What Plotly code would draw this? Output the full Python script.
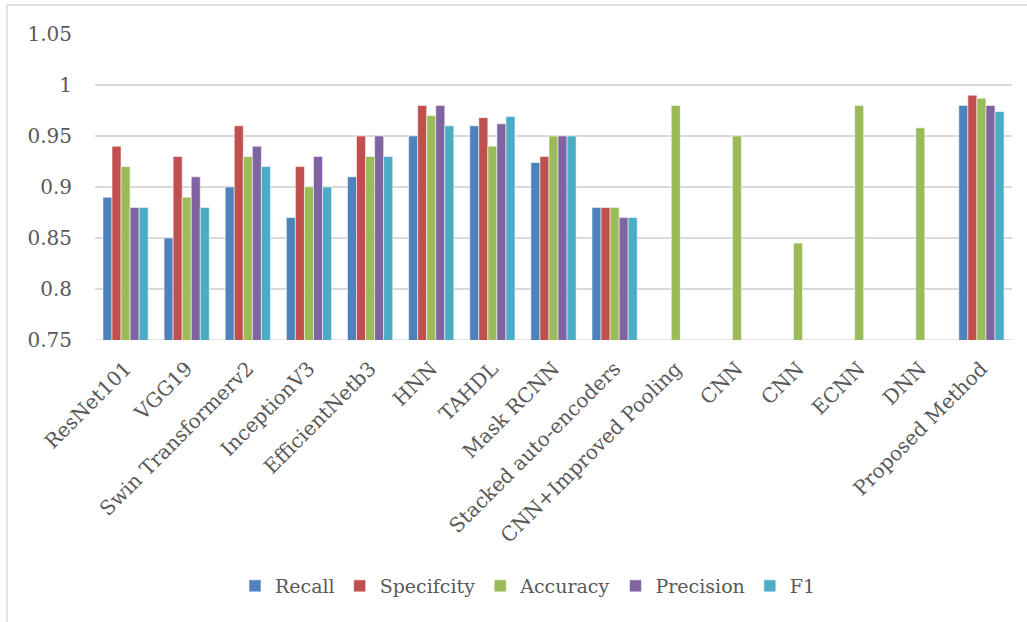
import plotly.graph_objects as go

methods = ["ResNet101", "VGG19", "Swin Transformerv2", "InceptionV3", "EfficientNetb3",
           "HNN", "TAHDL", "Mask RCNN", "Stacked auto-encoders", "CNN+Improved Pooling",
           "CNN", "CNN", "ECNN", "DNN", "Proposed Method"]

recall      = [0.89, 0.85, 0.90, 0.87, 0.91, 0.95, 0.96, 0.924, 0.88, None, None, None, None, None, 0.98]
specificity = [0.94, 0.93, 0.96, 0.92, 0.95, 0.98, 0.968, 0.93, 0.88, None, None, None, None, None, 0.99]
accuracy    = [0.92, 0.89, 0.93, 0.90, 0.93, 0.97, 0.94, 0.95, 0.88, 0.98, 0.95, 0.845, 0.98, 0.958, 0.987]
precision   = [0.88, 0.91, 0.94, 0.93, 0.95, 0.98, 0.962, 0.95, 0.87, None, None, None, None, None, 0.98]
f1          = [0.88, 0.88, 0.92, 0.90, 0.93, 0.96, 0.969, 0.95, 0.87, None, None, None, None, None, 0.974]

y_ticks = [0.75, 0.8, 0.85, 0.9, 0.95, 1.0, 1.05]
y_tick_text = ["0.75", "0.8", "0.85", "0.9", "0.95", "1", "1.05"]

series = [
    ("Recall", recall, "#4F81BD"),
    ("Specifcity", specificity, "#C0504D"),
    ("Accuracy", accuracy, "#9BBB59"),
    ("Precision", precision, "#8064A2"),
    ("F1", f1, "#4BACC6"),
]

positions = list(range(len(methods)))
font_family = "DejaVu Serif"
text_color = "#595959"
grid_color = "#D9D9D9"

fig = go.Figure()
for name, values, color in series:
    fig.add_trace(go.Bar(
        x=positions, y=values, name=name,
        marker=dict(color=color, line=dict(color="rgba(255,255,255,0.55)", width=1)),
    ))

# plot area in pixels: left 95, right 1012, top 34, bottom 340
L, R, T, B = 95, 1012, 34, 340
W, H = 1027, 622

def px_x(p):
    return (p - L) / (R - L)

def px_y(p):
    return (B - p) / (B - T)

fig.update_layout(
    width=W, height=H,
    margin=dict(l=L, r=W - R, t=T, b=H - B),
    barmode="group", bargap=0.26, bargroupgap=0,
    plot_bgcolor="white", paper_bgcolor="white",
    font=dict(family=font_family, size=19, color=text_color),
    showlegend=True,
    legend=dict(orientation="h", x=px_x(528), xanchor="center", y=px_y(586), yanchor="middle",
                font=dict(size=19, color=text_color), itemwidth=30, traceorder="normal"),
    xaxis=dict(
        range=[-0.5, len(methods) - 0.5],
        tickmode="array", tickvals=positions, ticktext=methods,
        tickangle=-45, showgrid=False, zeroline=False, showline=False,
        ticks="outside", ticklen=8, tickcolor="rgba(0,0,0,0)",
        tickfont=dict(size=20, color=text_color),
    ),
    yaxis=dict(
        range=[0.75, 1.05], tickmode="array", tickvals=y_ticks, ticktext=y_tick_text,
        showgrid=True, gridcolor=grid_color, gridwidth=1.5, zeroline=False,
        showline=False, ticks="outside", ticklen=18, tickcolor="rgba(0,0,0,0)",
        tickfont=dict(size=20, color=text_color),
    ),
    shapes=[
        dict(type="rect", xref="paper", yref="paper",
             x0=px_x(7), x1=px_x(1035), y0=px_y(630), y1=px_y(5),
             line=dict(color=grid_color, width=1.5), fillcolor="rgba(0,0,0,0)", layer="below"),
        dict(type="line", xref="paper", yref="y", x0=0, x1=1, y0=0.75, y1=0.75,
             line=dict(color=grid_color, width=1.5), layer="below"),
    ],
)

fig.write_html("out.html")
